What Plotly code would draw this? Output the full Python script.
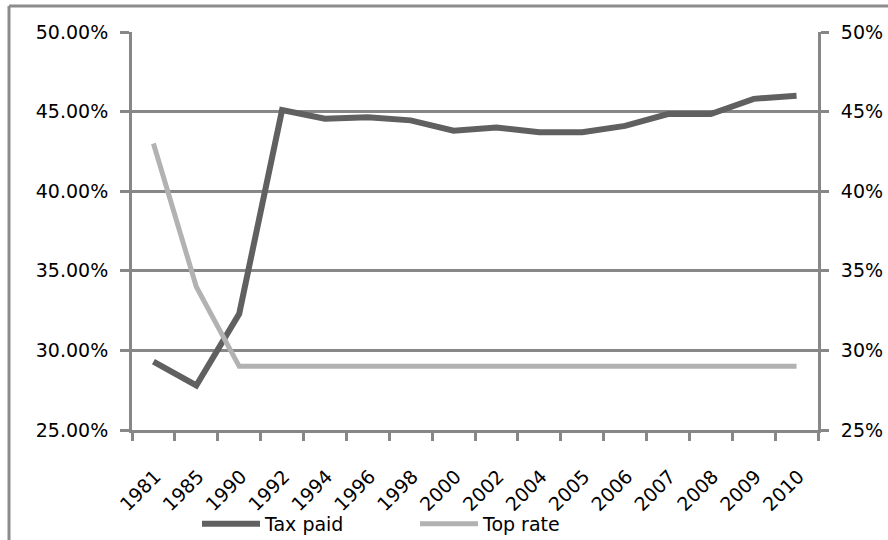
import plotly.graph_objects as go

# Survey years shown on the category axis
years = ["1981", "1985", "1990", "1992", "1994", "1996", "1998", "2000",
         "2002", "2004", "2005", "2006", "2007", "2008", "2009", "2010"]

# Share of tax paid (fraction)
tax_paid = [0.293, 0.278, 0.323, 0.451, 0.4455, 0.4465, 0.4445, 0.438,
            0.440, 0.437, 0.437, 0.441, 0.4485, 0.4485, 0.458, 0.460]

# Top marginal rate (fraction)
top_rate = [0.43, 0.34, 0.29, 0.29, 0.29, 0.29, 0.29, 0.29,
            0.29, 0.29, 0.29, 0.29, 0.29, 0.29, 0.29, 0.29]

W, H = 888, 540
ML, MR, MT, MB = 132, 70, 32, 110
PW, PH = W - ML - MR, H - MT - MB

AXIS_GREY = "#878787"
FRAME_GREY = "#8c8c8c"
FONT = dict(family="DejaVu Sans", size=19, color="#000000")


def px_to_paper_x(px):
    return (px - ML) / PW


def px_to_paper_y(py):
    return (H - MB - py) / PH


fig = go.Figure()
fig.add_trace(go.Scatter(
    x=years, y=tax_paid, name="Tax paid", mode="lines",
    line=dict(color="#606060", width=6), yaxis="y",
))
fig.add_trace(go.Scatter(
    x=years, y=top_rate, name="Top rate", mode="lines",
    line=dict(color="#b2b2b2", width=5), yaxis="y2",
))

fig.update_layout(
    width=W, height=H,
    margin=dict(l=ML, r=MR, t=MT, b=MB, pad=0, autoexpand=False),
    paper_bgcolor="#ffffff", plot_bgcolor="#ffffff",
    font=FONT,
    hovermode=False,
    xaxis=dict(
        type="category", tickson="boundaries", automargin=False,
        range=[-0.5, len(years) - 0.5],
        showgrid=False, zeroline=False,
        showline=True, linecolor=AXIS_GREY, linewidth=3,
        ticks="outside", ticklen=8, tickwidth=3, tickcolor=AXIS_GREY,
        tickangle=-45, tickfont=FONT,
        ticklabelstandoff=25, ticklabelshift=2,
    ),
    yaxis=dict(
        range=[0.25, 0.50], dtick=0.05, tickformat=".2%", automargin=False,
        showgrid=True, gridcolor=AXIS_GREY, gridwidth=3,
        zeroline=False,
        showline=True, linecolor=AXIS_GREY, linewidth=3,
        ticks="outside", ticklen=9, tickwidth=3, tickcolor=AXIS_GREY,
        tickfont=FONT, ticklabelstandoff=8,
    ),
    yaxis2=dict(
        range=[0.25, 0.50], dtick=0.05, tickformat=".0%", automargin=False,
        overlaying="y", side="right",
        showgrid=False, zeroline=False,
        showline=True, linecolor=AXIS_GREY, linewidth=3,
        ticks="outside", ticklen=8, tickwidth=3, tickcolor=AXIS_GREY,
        tickfont=FONT, ticklabelstandoff=8,
    ),
    showlegend=True,
    legend=dict(
        orientation="h", xanchor="left", yanchor="middle",
        x=px_to_paper_x(197), y=px_to_paper_y(524),
        font=FONT, itemwidth=58, entrywidth=145, entrywidthmode="pixels",
        bgcolor="rgba(0,0,0,0)", borderwidth=0,
    ),
    shapes=[
        # outer frame: top and left edges
        dict(type="line", xref="paper", yref="paper", layer="below",
             x0=px_to_paper_x(9), x1=px_to_paper_x(900),
             y0=px_to_paper_y(6), y1=px_to_paper_y(6),
             line=dict(color=FRAME_GREY, width=3)),
        dict(type="line", xref="paper", yref="paper", layer="below",
             x0=px_to_paper_x(9), x1=px_to_paper_x(9),
             y0=px_to_paper_y(6), y1=px_to_paper_y(560),
             line=dict(color=FRAME_GREY, width=3)),
    ],
)

fig.write_html("out.html")
